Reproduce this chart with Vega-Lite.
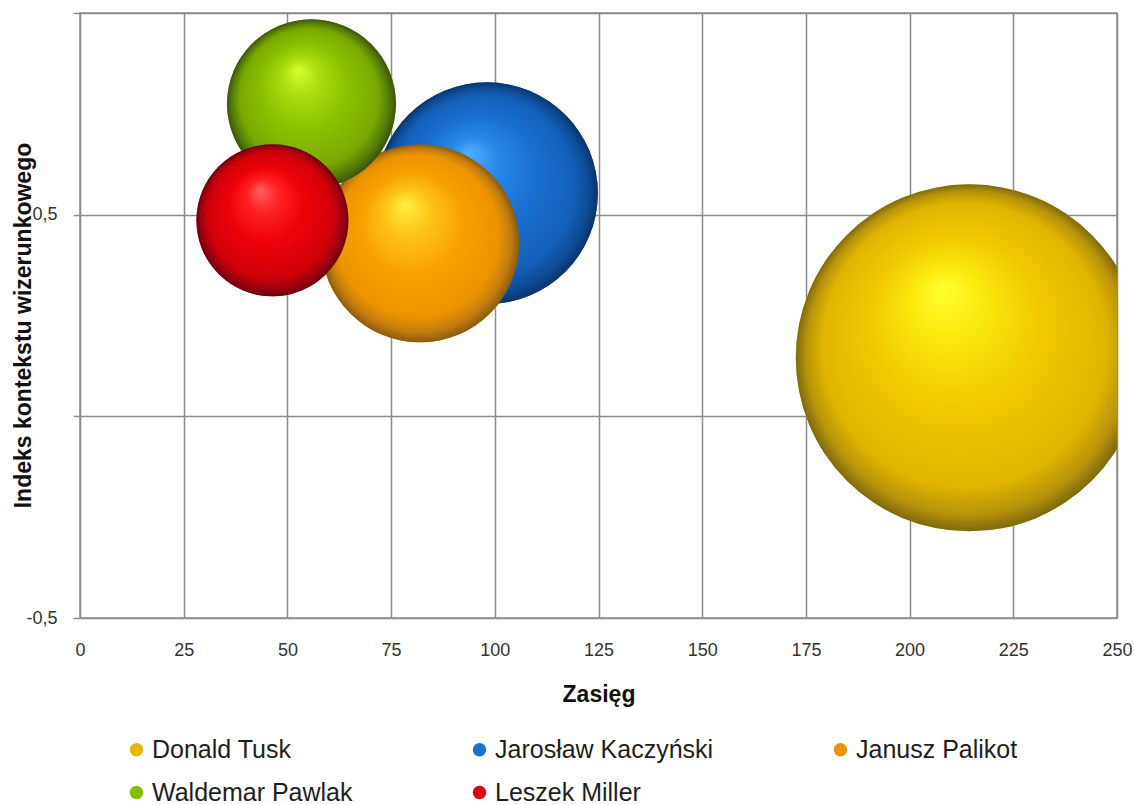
{
  "$schema": "https://vega.github.io/schema/vega-lite/v6.json",
  "width": 1037,
  "height": 605,
  "autosize": {"type": "none"},
  "padding": {"left": 80, "top": 13, "right": 17, "bottom": 187},
  "background": "white",
  "config": {
    "font": "Liberation Sans",
    "view": {"stroke": "#8c8c8c", "strokeWidth": 1.5}
  },
  "data": {
    "values": [
      {"idx": 1, "osoba": "Donald Tusk", "zasieg": 214.4, "indeks": 0.145, "rozmiar": 100},
      {"idx": 2, "osoba": "Jarosław Kaczyński", "zasieg": 98.1, "indeks": 0.553, "rozmiar": 40.9},
      {"idx": 3, "osoba": "Janusz Palikot", "zasieg": 82.0, "indeks": 0.429, "rozmiar": 32.6},
      {"idx": 4, "osoba": "Waldemar Pawlak", "zasieg": 55.8, "indeks": 0.775, "rozmiar": 23.7},
      {"idx": 5, "osoba": "Leszek Miller", "zasieg": 46.4, "indeks": 0.486, "rozmiar": 19.2}
    ]
  },
  "encoding": {
    "x": {
      "field": "zasieg",
      "type": "quantitative",
      "scale": {"domain": [0, 250], "nice": false, "zero": false},
      "axis": {
        "title": "Zasięg",
        "titleFont": "Liberation Sans",
        "titleFontSize": 23,
        "titleFontWeight": "bold",
        "titleColor": "#111",
        "titlePadding": 24,
        "values": [0, 25, 50, 75, 100, 125, 150, 175, 200, 225, 250],
        "labelFontSize": 18,
        "labelColor": "#333",
        "labelPadding": 23,
        "labelFlush": false,
        "labelOverlap": false,
        "ticks": false,
        "domain": false,
        "grid": true,
        "gridColor": "#8c8c8c",
        "gridWidth": 1.5,
        "gridOpacity": 1
      }
    },
    "y": {
      "field": "indeks",
      "type": "quantitative",
      "scale": {"domain": [-0.5, 1], "nice": false, "zero": false},
      "axis": {
        "title": "Indeks kontekstu  wizerunkowego",
        "titleFont": "Liberation Sans",
        "titleFontSize": 23,
        "titleFontWeight": "bold",
        "titleColor": "#111",
        "titleAngle": -90,
        "titleX": -57,
        "titleY": 312,
        "titleAlign": "center",
        "titleBaseline": "middle",
        "values": [-0.5, 0, 0.5, 1],
        "labelExpr": "datum.value == 0.5 ? '0,5' : (datum.value == -0.5 ? '-0,5' : '')",
        "labelFontSize": 18,
        "labelColor": "#333",
        "labelPadding": 16,
        "tickSize": 7,
        "tickColor": "#8c8c8c",
        "tickWidth": 1.5,
        "domain": false,
        "grid": true,
        "gridColor": "#8c8c8c",
        "gridWidth": 1.5,
        "gridOpacity": 1
      }
    },
    "size": {
      "field": "rozmiar",
      "type": "quantitative",
      "scale": {"type": "linear", "domain": [0, 100], "range": [0, 120409], "zero": true},
      "legend": null
    },
    "order": {"field": "idx", "type": "quantitative"}
  },
  "layer": [
    {
      "mark": {"type": "point", "shape": "circle", "filled": true, "opacity": 1, "strokeWidth": 0, "clip": true},
      "encoding": {
        "color": {
          "field": "osoba",
          "type": "nominal",
          "scale": {
            "domain": ["Donald Tusk", "Jarosław Kaczyński", "Janusz Palikot", "Waldemar Pawlak", "Leszek Miller"],
            "range": ["#e8b800", "#1a6fd0", "#e89400", "#86bc00", "#e00010"]
          },
          "legend": {
            "title": null,
            "orient": "none",
            "legendX": 44,
            "legendY": 724,
            "direction": "horizontal",
            "columns": 3,
            "columnPadding": 114,
            "rowPadding": 17,
            "padding": 0,
            "labelFont": "Liberation Sans",
            "labelFontSize": 25,
            "labelColor": "#1e1e1e",
            "labelOffset": 3,
            "labelLimit": 400,
            "symbolType": "circle",
            "symbolSize": 180,
            "symbolStrokeWidth": 0,
            "symbolOpacity": 1
          }
        }
      }
    },
    {
      "transform": [{"filter": "datum.osoba == 'Donald Tusk'"}],
      "mark": {
        "type": "point", "shape": "circle", "filled": true, "opacity": 1, "strokeWidth": 0, "clip": true,
        "fill": {
          "gradient": "radial", "x1": 0.42, "y1": 0.3, "r1": 0, "x2": 0.5, "y2": 0.5, "r2": 0.5,
          "stops": [
            {"offset": 0, "color": "#ffff33"},
            {"offset": 0.2, "color": "#fbe90c"},
            {"offset": 0.5, "color": "#f2c800"},
            {"offset": 0.82, "color": "#e0b400"},
            {"offset": 0.93, "color": "#b8920a"},
            {"offset": 1, "color": "#7d6a10"}
          ]
        }
      }
    },
    {
      "transform": [{"filter": "datum.osoba == 'Jarosław Kaczyński'"}],
      "mark": {
        "type": "point", "shape": "circle", "filled": true, "opacity": 1, "strokeWidth": 0, "clip": true,
        "fill": {
          "gradient": "radial", "x1": 0.42, "y1": 0.32, "r1": 0, "x2": 0.5, "y2": 0.5, "r2": 0.5,
          "stops": [
            {"offset": 0, "color": "#4fb0ff"},
            {"offset": 0.22, "color": "#2a8ae8"},
            {"offset": 0.5, "color": "#1a70d0"},
            {"offset": 0.82, "color": "#1460b8"},
            {"offset": 0.93, "color": "#0d4a94"},
            {"offset": 1, "color": "#0a3468"}
          ]
        }
      }
    },
    {
      "transform": [{"filter": "datum.osoba == 'Janusz Palikot'"}],
      "mark": {
        "type": "point", "shape": "circle", "filled": true, "opacity": 1, "strokeWidth": 0, "clip": true,
        "fill": {
          "gradient": "radial", "x1": 0.42, "y1": 0.3, "r1": 0, "x2": 0.5, "y2": 0.5, "r2": 0.5,
          "stops": [
            {"offset": 0, "color": "#fff040"},
            {"offset": 0.22, "color": "#ffc61a"},
            {"offset": 0.5, "color": "#f7a200"},
            {"offset": 0.82, "color": "#eb9400"},
            {"offset": 0.93, "color": "#c07a10"},
            {"offset": 1, "color": "#8a5a10"}
          ]
        }
      }
    },
    {
      "transform": [{"filter": "datum.osoba == 'Waldemar Pawlak'"}],
      "mark": {
        "type": "point", "shape": "circle", "filled": true, "opacity": 1, "strokeWidth": 0, "clip": true,
        "fill": {
          "gradient": "radial", "x1": 0.42, "y1": 0.3, "r1": 0, "x2": 0.5, "y2": 0.5, "r2": 0.5,
          "stops": [
            {"offset": 0, "color": "#d8ff30"},
            {"offset": 0.22, "color": "#acdc10"},
            {"offset": 0.5, "color": "#8cc200"},
            {"offset": 0.82, "color": "#78a800"},
            {"offset": 0.93, "color": "#557a08"},
            {"offset": 1, "color": "#3a540a"}
          ]
        }
      }
    },
    {
      "transform": [{"filter": "datum.osoba == 'Leszek Miller'"}],
      "mark": {
        "type": "point", "shape": "circle", "filled": true, "opacity": 1, "strokeWidth": 0, "clip": true,
        "fill": {
          "gradient": "radial", "x1": 0.42, "y1": 0.3, "r1": 0, "x2": 0.5, "y2": 0.5, "r2": 0.5,
          "stops": [
            {"offset": 0, "color": "#ff6060"},
            {"offset": 0.22, "color": "#ff2020"},
            {"offset": 0.5, "color": "#ee0008"},
            {"offset": 0.82, "color": "#d00008"},
            {"offset": 0.93, "color": "#a00010"},
            {"offset": 1, "color": "#6a0010"}
          ]
        }
      }
    }
  ]
}
